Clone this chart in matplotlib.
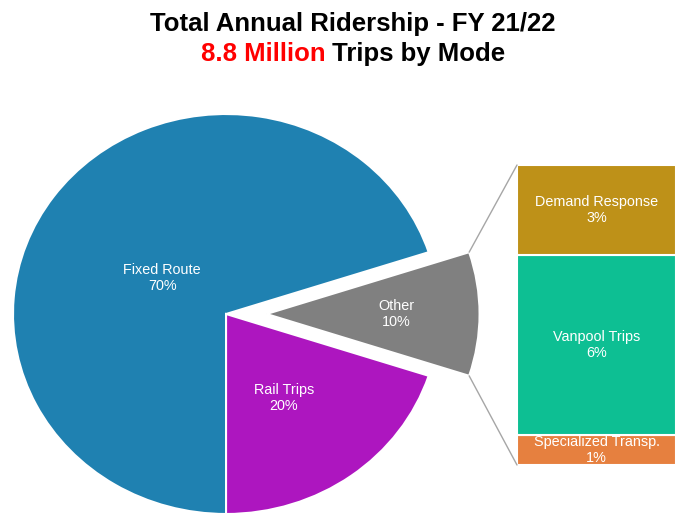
import numpy as np
import matplotlib.pyplot as plt
from matplotlib.patches import ConnectionPatch

plt.rcParams["font.family"] = ["Liberation Sans", "DejaVu Sans"]

# 数据
modes = ["Other", "Fixed Route", "Rail Trips"]
mode_share = [10, 70, 20]
mode_colors = ["#808080", "#1F81B1", "#AD16BF"]

other_parts = ["Specialized Transp.", "Vanpool Trips", "Demand Response"]
other_share = [1, 6, 3]
other_colors = ["#E6803F", "#0DBF93", "#BE9118"]

W, H = 683, 515
fig = plt.figure(figsize=(W / 100, H / 100), dpi=100)

# 饼图
ax_pie = fig.add_axes([13 / W, 0, 490 / W, 401 / H])
wedges, _ = ax_pie.pie(mode_share, colors=mode_colors, startangle=-18,
                       explode=[0.19, 0, 0],
                       wedgeprops=dict(edgecolor="white", linewidth=1.5))
ax_pie.set_aspect("auto")
ax_pie.set_xlim(-1.0, 1.3)
ax_pie.set_ylim(-1.005, 1.0)
ax_pie.axis("off")

label_dist = [0.61, 0.35, 0.5]
label_ang_shift = [0, 5, -3]
for w, name, share, d, s in zip(wedges, modes, mode_share, label_dist, label_ang_shift):
    ang = np.deg2rad((w.theta1 + w.theta2) / 2 + s)
    cx, cy = w.center
    ax_pie.text(cx + d * np.cos(ang), cy + d * np.sin(ang), f"{name}\n{share}%",
                ha="center", va="center", color="white", fontsize=10.4, linespacing=1.15)

# 堆叠柱
ax_bar = fig.add_axes([517 / W, 50 / H, 159 / W, 300 / H])
bottom = 0
for name, share, color in zip(other_parts, other_share, other_colors):
    ax_bar.bar(0, share, bottom=bottom, width=1, color=color, edgecolor="white", linewidth=1.5)
    ax_bar.text(0, bottom + share / 2, f"{name}\n{share}%", ha="center", va="center",
                color="white", fontsize=10.4, linespacing=1.15)
    bottom += share
ax_bar.set_xlim(-0.5, 0.5)
ax_bar.set_ylim(0, sum(other_share))
ax_bar.axis("off")

# 连接线
other = wedges[0]
cx, cy = other.center
for theta, ybar in [(other.theta2, sum(other_share)), (other.theta1, 0)]:
    corner = (cx + other.r * np.cos(np.deg2rad(theta)), cy + other.r * np.sin(np.deg2rad(theta)))
    con = ConnectionPatch(xyA=(-0.5, ybar), coordsA=ax_bar.transData,
                          xyB=corner, coordsB=ax_pie.transData,
                          color="#A6A6A6", linewidth=1)
    fig.add_artist(con)

# 标题
fig.text(353 / W, 1 - 24 / H, "Total Annual Ridership - FY 21/22", ha="center", va="center",
         fontsize=18.5, fontweight="bold")
renderer = fig.canvas.get_renderer()
t_red = fig.text(0, 1 - 54 / H, "8.8 Million", color="red", ha="left", va="center",
                 fontsize=18.5, fontweight="bold")
t_black = fig.text(0, 1 - 54 / H, " Trips by Mode", color="black", ha="left", va="center",
                   fontsize=18.5, fontweight="bold")
w_red = t_red.get_window_extent(renderer).width
w_black = t_black.get_window_extent(renderer).width
x0 = 353 - (w_red + w_black) / 2
t_red.set_x(x0 / W)
t_black.set_x((x0 + w_red) / W)

fig.savefig("out.png", dpi=100)
plt.close()
